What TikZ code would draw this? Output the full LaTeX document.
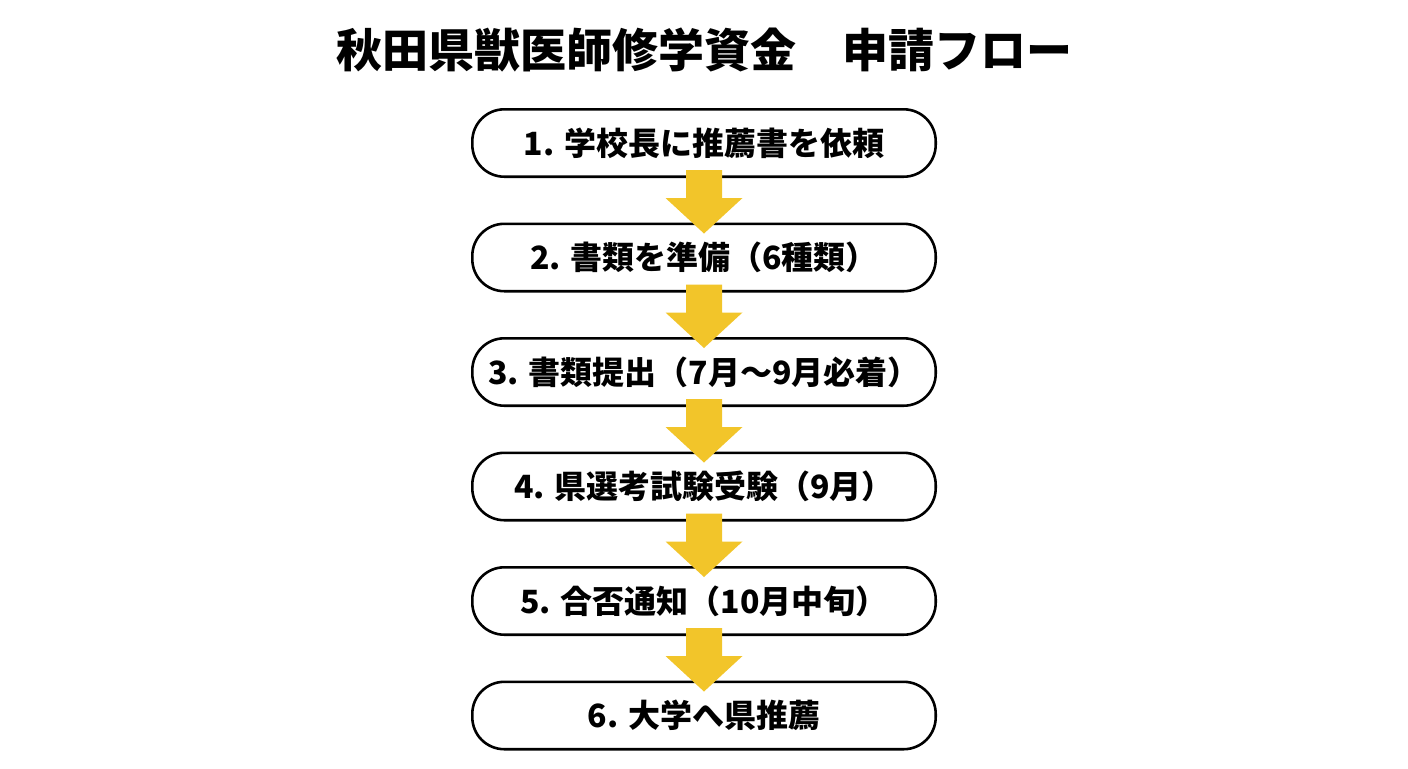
\documentclass[tikz,border=0pt]{standalone}
\usepackage{fontspec}
\setmainfont{Noto Sans CJK JP}
\usetikzlibrary{positioning,calc}
\definecolor{flowyellow}{HTML}{F2C52A}
\tikzset{
	stepnode/.style={draw=black, line width=1.3pt, rounded corners=16pt, fill=white,
		minimum width=231.7pt, minimum height=33.7pt, inner sep=0pt,
		font=\bfseries\fontsize{16}{19}\selectfont}, % The step boxes
	titlenode/.style={font=\bfseries\fontsize{23}{28}\selectfont}
}
\begin{document}
\begin{tikzpicture}[x=0.5pt,y=-0.5pt]
		% Canvas
		\useasboundingbox (0,0) rectangle (1408,768);
		% Title
		\node[titlenode] (title) at (704,50) {秋田県獣医師修学資金　申請フロー};
		% Draw steps
		\node[stepnode] (s1) at (704,143) {1. 学校長に推薦書を依頼};
		\node[stepnode,below=22.25pt of s1] (s2) {2. 書類を準備（6種類）};
		\node[stepnode,below=22.25pt of s2] (s3) {3. 書類提出（7月～9月必着）};
		\node[stepnode,below=22.25pt of s3] (s4) {4. 県選考試験受験（9月）};
		\node[stepnode,below=22.25pt of s4] (s5) {5. 合否通知（10月中旬）};
		\node[stepnode,below=22.25pt of s5] (s6) {6. 大学へ県推薦};
		% Draw yellow arrows
		\foreach \a/\b in {s1/s2,s2/s3,s3/s4,s4/s5,s5/s6}
		\fill[flowyellow] ($(\a.south)+(-18,-8)$) -- ($(\a.south)+(18,-8)$)
		-- ($(\a.south)+(18,20)$) -- ($(\a.south)+(38.5,20)$)
		-- ($(\b.north)+(0,11)$)
		-- ($(\a.south)+(-38.5,20)$) -- ($(\a.south)+(-18,20)$) -- cycle;
\end{tikzpicture}
\end{document}
